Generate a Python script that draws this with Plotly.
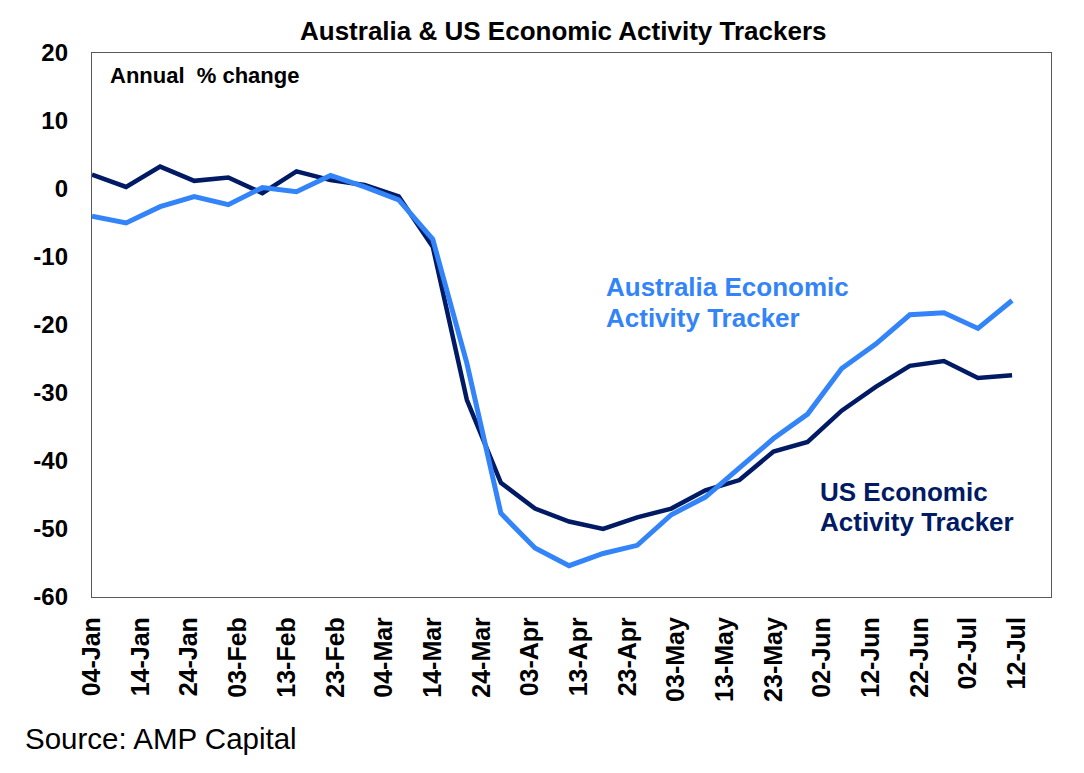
import plotly.graph_objects as go
import pandas as pd

dates = pd.date_range("2020-01-04", periods=28, freq="7D").strftime("%Y-%m-%d").tolist()

us_tracker = [2.1, 0.3, 3.3, 1.2, 1.7, -0.6, 2.6, 1.3, 0.6, -1.1,
              -8.5, -31.0, -43.2, -47.0, -48.9, -50.0, -48.3, -47.0,
              -44.3, -42.8, -38.6, -37.2, -32.6, -29.1, -26.0, -25.3,
              -27.8, -27.4]
aus_tracker = [-4.0, -5.0, -2.6, -1.1, -2.3, 0.2, -0.4, 2.0, 0.3, -1.6,
               -7.4, -25.6, -47.7, -52.8, -55.4, -53.6, -52.4, -47.9,
               -45.3, -41.1, -36.7, -33.1, -26.4, -22.8, -18.5, -18.2,
               -20.5, -16.4]

y_tick_values = [-60, -50, -40, -30, -20, -10, 0, 10, 20]
y_tick_labels = ["-60", "-50", "-40", "-30", "-20", "-10", "0", "10", "20"]

US_COLOR = "#001a64"
AUS_COLOR = "#3384f8"
FONT = "Liberation Sans, Arial, sans-serif"

fig = go.Figure()
fig.add_trace(go.Scatter(x=dates, y=us_tracker, mode="lines",
                         line=dict(color=US_COLOR, width=4.5),
                         name="US Economic Activity Tracker", showlegend=False))
fig.add_trace(go.Scatter(x=dates, y=aus_tracker, mode="lines",
                         line=dict(color=AUS_COLOR, width=5),
                         name="Australia Economic Activity Tracker", showlegend=False))

x_range = ["2020-01-04", "2020-07-19"]
ten_days = 10 * 24 * 3600 * 1000

fig.update_layout(
    width=1076, height=765,
    margin=dict(l=84, r=33, t=45, b=176),
    plot_bgcolor="white", paper_bgcolor="white",
    font=dict(family=FONT, color="black"),
    xaxis=dict(type="date", range=x_range, tick0="2020-01-04", dtick=ten_days,
               tickformat="%d-%b", tickangle=-90, showgrid=False, zeroline=False,
               showline=True, mirror=True, linecolor="#595959", linewidth=1.3,
               ticks="", ticklabelstandoff=9,
               tickfont=dict(family=FONT, size=25, weight="bold", color="black")),
    xaxis2=dict(type="date", range=x_range, tick0="2020-01-04", dtick=ten_days,
                overlaying="x", anchor="free", position=0.75, side="bottom",
                showline=True, linecolor="black", linewidth=1.5,
                ticks="outside", ticklen=8, tickwidth=1.3, tickcolor="black",
                showticklabels=False, showgrid=False, zeroline=False),
    yaxis=dict(range=[-60, 20], tickmode="array", tickvals=y_tick_values,
               ticktext=y_tick_labels, showgrid=False, zeroline=False,
               showline=True, mirror=True, linecolor="#595959", linewidth=1.3,
               ticks="", ticklabelstandoff=18, domain=[0, 1],
               tickfont=dict(family=FONT, size=24, weight="bold", color="black")),
)

ann = [
    dict(text="<b>Australia & US Economic Activity Trackers</b>", x=0.491, y=1.0404,
         xanchor="center", size=26, color="black"),
    dict(text="<b>Annual  % change</b>", x=0.0164, y=0.958, xanchor="left",
         size=22, color="black"),
    dict(text="<b>Australia Economic</b>", x=0.534, y=0.5704, xanchor="left",
         size=26, color=AUS_COLOR),
    dict(text="<b>Activity Tracker</b>", x=0.534, y=0.5129, xanchor="left",
         size=26, color=AUS_COLOR),
    dict(text="<b>US Economic</b>", x=0.757, y=0.1936, xanchor="left",
         size=26, color=US_COLOR),
    dict(text="<b>Activity Tracker</b>", x=0.757, y=0.1379, xanchor="left",
         size=26, color=US_COLOR),
    dict(text="Source: AMP Capital", x=-0.0719, y=-0.261, xanchor="left",
         size=29.5, color="black"),
]
for a in ann:
    fig.add_annotation(text=a["text"], x=a["x"], y=a["y"], xref="paper", yref="paper",
                       xanchor=a["xanchor"], yanchor="middle", showarrow=False,
                       font=dict(family=FONT, size=a["size"], color=a["color"]))

fig.write_html("out.html")
